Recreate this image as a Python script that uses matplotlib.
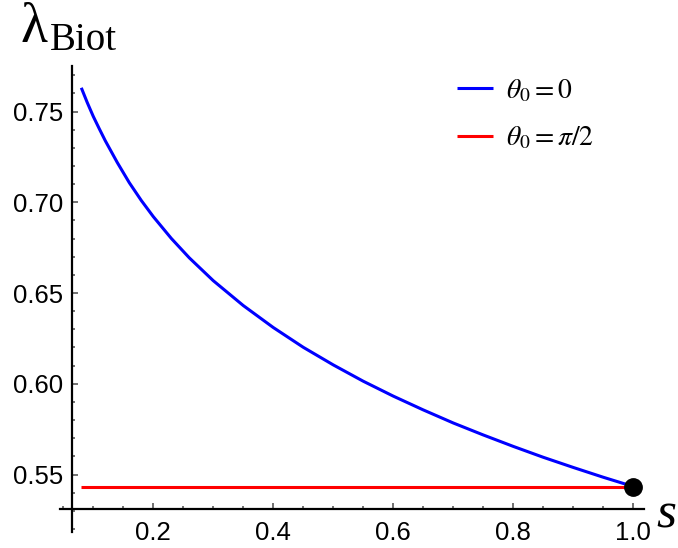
import numpy as np
import matplotlib.pyplot as plt
from matplotlib.ticker import MultipleLocator

plt.rcParams['mathtext.fontset'] = 'stix'

# values of lambda_Biot along s
s_theta0 = [0.08, 0.09, 0.10, 0.11, 0.12, 0.14, 0.16, 0.18, 0.20, 0.23,
            0.26, 0.30, 0.35, 0.40, 0.45, 0.50, 0.55, 0.60, 0.65, 0.70,
            0.75, 0.80, 0.85, 0.90, 0.95, 1.00]
lam_theta0 = [0.7631, 0.7549, 0.7473, 0.7405, 0.7339, 0.7219, 0.7108, 0.7010, 0.6921, 0.6801,
              0.6694, 0.6568, 0.6431, 0.6310, 0.6201, 0.6104, 0.6014, 0.5932, 0.5856, 0.5784,
              0.5718, 0.5655, 0.5595, 0.5539, 0.5485, 0.5434]
s_theta90 = [0.08, 1.00]
lam_theta90 = [0.5434, 0.5434]
end_point = (1.0, 0.5434)

W, H = 678, 548
fig = plt.figure(figsize=(W / 100, H / 100), dpi=100)
ax = fig.add_axes([60 / W, 16.3 / H, 583.6 / W, 465.7 / H])

ax.plot(s_theta0, lam_theta0, color=(0, 0, 1), lw=2.2, label=r'$\theta_0{=}0$',
        solid_capstyle='butt', solid_joinstyle='round')
ax.plot(s_theta90, lam_theta90, color=(1, 0, 0), lw=2.2, label=r'$\theta_0{=}\pi/2$',
        solid_capstyle='butt')
ax.plot(*end_point, 'o', color='black', ms=12.5, zorder=5, clip_on=False)

ax.set_xlim(0.0445, 1.0172)
ax.set_ylim(0.5185, 0.7751)

# Mathematica-like crossing axes
ax.spines['left'].set_position(('data', 0.064))
ax.spines['bottom'].set_position(('data', 0.5311))
ax.spines['top'].set_visible(False)
ax.spines['right'].set_visible(False)
for sp in ('left', 'bottom'):
    ax.spines[sp].set_linewidth(1.6)

ax.set_xticks([0.2, 0.4, 0.6, 0.8, 1.0])
ax.set_xticklabels(['0.2', '0.4', '0.6', '0.8', '1.0'])
ax.set_yticks([0.55, 0.60, 0.65, 0.70, 0.75])
ax.set_yticklabels(['0.55', '0.60', '0.65', '0.70', '0.75'])
ax.xaxis.set_minor_locator(MultipleLocator(0.05))
ax.yaxis.set_minor_locator(MultipleLocator(0.01))
ax.tick_params(which='both', direction='in', color='#666666', width=1.3)
ax.tick_params(which='major', length=4.5, labelsize=18.5)
ax.tick_params(which='minor', length=2.5)
ax.tick_params(axis='x', pad=9)
ax.tick_params(axis='y', pad=6)
for lab in ax.get_xticklabels() + ax.get_yticklabels():
    lab.set_fontfamily('Liberation Sans')

# axis labels
fig.text(20 / W, 1 - 42 / H, '\u03bb', fontsize=40, family='Liberation Serif',
         ha='left', va='baseline')
fig.text(50 / W, 1 - 50 / H, 'Biot', fontsize=28, family='Liberation Serif',
         ha='left', va='baseline')
fig.text(656 / W, 1 - 528 / H, 's', fontsize=37, family='Liberation Serif',
         style='italic', ha='left', va='baseline')

leg = ax.legend(loc='upper left', bbox_to_anchor=(457 / W, 1 - 76 / H),
                bbox_transform=fig.transFigure, frameon=False, fontsize=20,
                handlelength=1.3, handletextpad=0.45, labelspacing=0.7,
                borderpad=0, borderaxespad=0)

fig.savefig('out.png', dpi=100)
